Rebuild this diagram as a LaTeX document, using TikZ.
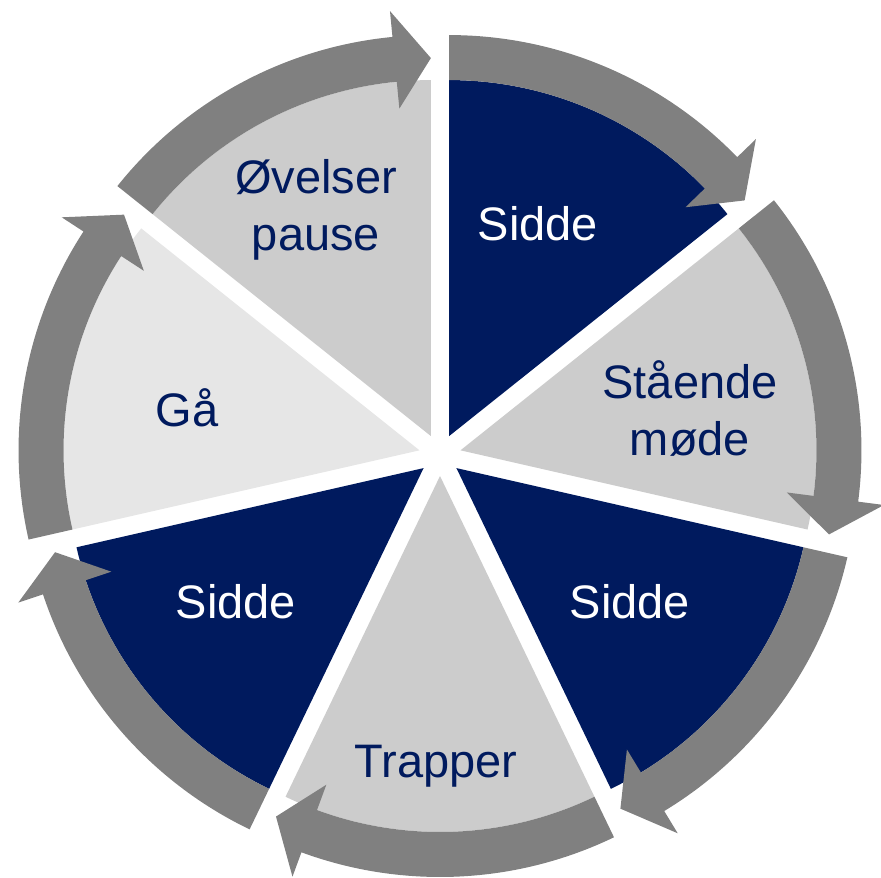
\documentclass[tikz,border=0pt]{standalone}
\usepackage{fontspec}
\setmainfont{Liberation Sans}
\usetikzlibrary{calc}
\definecolor{sitnavy}{HTML}{001A5E}
\definecolor{steplight}{HTML}{CCCCCC}
\definecolor{steppale}{HTML}{E6E6E6}
\definecolor{ringgray}{HTML}{808080}

\begin{document}
\begin{tikzpicture}[
  x=0.5pt, y=0.5pt,
  steptext/.style={align=center, font=\fontsize{23.5}{28.5}\selectfont, inner sep=0pt},
  ring/.style={fill=ringgray}
]
\useasboundingbox (-440,-422) rectangle (441,455);

% Wedges and ring arrows, clockwise from the top
\foreach \k/\col in {0/sitnavy,1/steplight,2/sitnavy,3/steplight,4/sitnavy,5/steppale,6/steplight}{
  \pgfmathsetmacro{\sa}{90-51.4286*\k}
  \pgfmathsetmacro{\sb}{\sa-51.4286}
  \pgfmathsetmacro{\sm}{\sa-25.7143}
  \pgfmathsetmacro{\sh}{\sb+5.5}
  \coordinate (apex\k) at (\sm:21);
  \fill[\col] (apex\k) -- ($(apex\k)+(\sa:356)$) arc[start angle=\sa, end angle=\sb, radius=356] -- cycle;
  \fill[ring] ($(apex\k)+(\sa:356)$) -- ($(apex\k)+(\sa:401)$)
    arc[start angle=\sa, end angle=\sh, radius=401]
    -- ($(apex\k)+(\sh:427)$) -- ($(apex\k)+(\sb:378)$) -- ($(apex\k)+(\sh:329)$)
    -- ($(apex\k)+(\sh:356)$) arc[start angle=\sh, end angle=\sa, radius=356] -- cycle;
}

% Labels
\node[steptext, text=white] (sidde1) at (98,231) {Sidde};
\node[steptext, text=sitnavy] (staaende) at (250,47) {Stående\\møde};
\node[steptext, text=white] (sidde2) at (190,-147) {Sidde};
\node[steptext, text=sitnavy] (trapper) at (-4,-311) {Trapper};
\node[steptext, text=white] (sidde3) at (-204,-147) {Sidde};
\node[steptext, text=sitnavy] (gaa) at (-253,47) {Gå};
\node[steptext, text=sitnavy] (oevelser) at (-124,245) {Øvelser\\pause};

\end{tikzpicture}
\end{document}
